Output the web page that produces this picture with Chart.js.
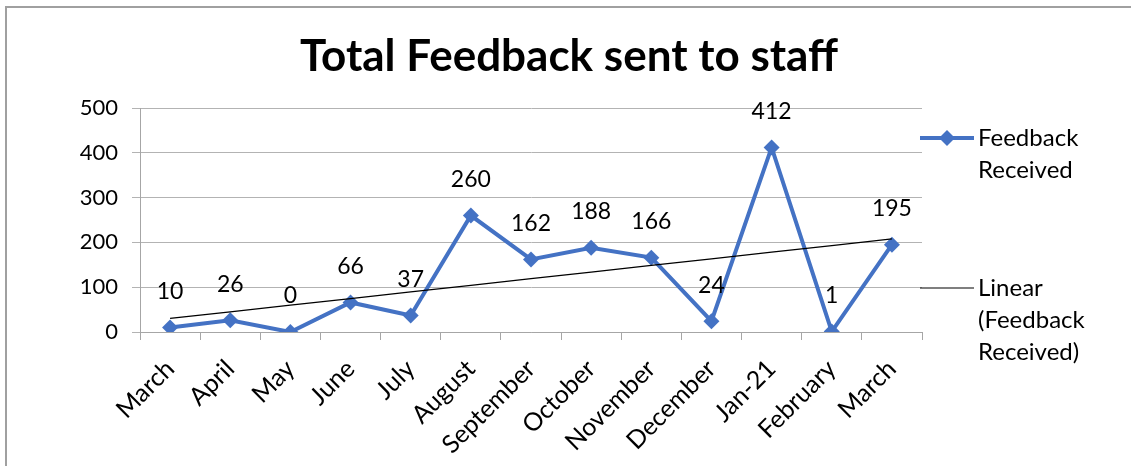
<!DOCTYPE html>
<html>
<head>
<meta charset="utf-8">
<script src="https://cdn.jsdelivr.net/npm/chart.js@4.4.1/dist/chart.umd.min.js"></script>
<style>
    html, body { margin: 0; padding: 0; background: #fff; }
    #wrap { position: relative; width: 1131px; height: 466px; overflow: hidden; }
    #frame {
        position: absolute; left: 5px; top: 6px; width: 1200px; height: 500px;
        border-top: 2px solid #a0a0a0; border-left: 2px solid #a0a0a0;
    }
    canvas { position: absolute; left: 0; top: 0; }
    .legend { position: absolute; font-family: Lato, "Open Sans", sans-serif; font-size: 24px; line-height: 32px; color: #000; }
</style>
</head>
<body>
<div id="wrap">
    <div id="frame"></div>
    <canvas id="feedbackChart" width="1131" height="466"></canvas>
    <div class="legend" style="left:978px; top:121px;">Feedback<br>Received</div>
    <svg style="position:absolute; left:918px; top:128px;" width="58" height="20">
        <line x1="2" y1="10" x2="56" y2="10" stroke="#4472C4" stroke-width="4"/>
        <polygon points="29,2 37,10 29,18 21,10" fill="#4472C4"/>
    </svg>
    <div class="legend" style="left:978px; top:271px;">Linear<br>(Feedback<br>Received)</div>
    <svg style="position:absolute; left:918px; top:278px;" width="58" height="20">
        <line x1="2" y1="10" x2="56" y2="10" stroke="#000" stroke-width="1.2"/>
    </svg>
</div>
<script>
// Données
const months = ['March', 'April', 'May', 'June', 'July', 'August', 'September',
    'October', 'November', 'December', 'Jan-21', 'February', 'March'];
const feedbackReceived = [10, 26, 0, 66, 37, 260, 162, 188, 166, 24, 412, 1, 195];
const yTicks = [0, 100, 200, 300, 400, 500];
const chartTitle = 'Total Feedback sent to staff';

// Courbe de tendance linéaire (moindres carrés, comme Excel)
function linearTrend(values) {
    const n = values.length;
    const meanX = (n - 1) / 2;
    const meanY = values.reduce((a, b) => a + b, 0) / n;
    let sxy = 0, sxx = 0;
    values.forEach((v, i) => {
        sxy += (i - meanX) * (v - meanY);
        sxx += (i - meanX) * (i - meanX);
    });
    const slope = sxy / sxx;
    return values.map((v, i) => meanY + slope * (i - meanX));
}

const fontFamily = 'Lato, "Open Sans", sans-serif';

// Titre centré sur toute la largeur + étiquettes de valeurs
const extras = {
    id: 'extras',
    afterDatasetsDraw(chart) {
        const ctx = chart.ctx;
        const meta = chart.getDatasetMeta(1);
        ctx.save();
        ctx.fillStyle = '#000';
        ctx.textAlign = 'center';
        ctx.textBaseline = 'middle';
        ctx.font = 'bold 44px ' + fontFamily;
        ctx.fillText(chartTitle, 569, 57);
        ctx.font = '23px ' + fontFamily;
        meta.data.forEach((pt, i) => {
            ctx.fillText(String(feedbackReceived[i]), pt.x, pt.y - 36);
        });
        ctx.restore();
    }
};

const ctx = document.getElementById('feedbackChart').getContext('2d');
new Chart(ctx, {
    type: 'line',
    data: {
        labels: months,
        datasets: [
            {
                label: 'Linear (Feedback Received)',
                data: linearTrend(feedbackReceived),
                borderColor: '#000',
                borderWidth: 1.2,
                pointRadius: 0,
                fill: false,
                order: 0
            },
            {
                label: 'Feedback Received',
                data: feedbackReceived,
                borderColor: '#4472C4',
                backgroundColor: '#4472C4',
                borderWidth: 4,
                pointStyle: 'rectRot',
                pointRadius: 8,
                pointBorderWidth: 0,
                tension: 0,
                fill: false,
                order: 1
            }
        ]
    },
    options: {
        responsive: false,
        animation: false,
        layout: { padding: { left: 0, right: 209, top: 108, bottom: 0 } },
        plugins: {
            legend: { display: false },
            tooltip: { enabled: false },
            title: { display: false }
        },
        scales: {
            x: {
                offset: true,
                grid: {
                    offset: true,
                    drawOnChartArea: false,
                    drawTicks: true,
                    tickLength: 8,
                    color: '#a6a6a6'
                },
                border: { color: '#a6a6a6', width: 1 },
                ticks: {
                    color: '#000',
                    font: { family: fontFamily, size: 25 },
                    minRotation: 45,
                    maxRotation: 45,
                    autoSkip: false,
                    padding: 14
                },
                afterFit(scale) { scale.height = 134; }
            },
            y: {
                min: 0,
                max: 500,
                afterBuildTicks(scale) { scale.ticks = yTicks.map(v => ({ value: v })); },
                grid: { color: '#b3b3b3', tickLength: 8 },
                border: { color: '#a6a6a6', width: 1 },
                ticks: {
                    color: '#000',
                    font: { family: fontFamily, size: 22 },
                    padding: 14
                },
                afterFit(scale) { scale.width = 140; }
            }
        }
    },
    plugins: [extras]
});
</script>
</body>
</html>
